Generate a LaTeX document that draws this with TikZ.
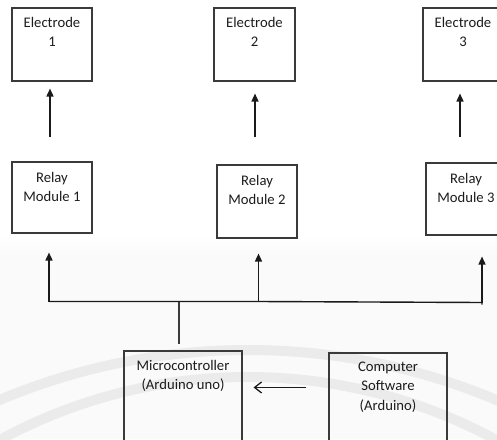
\documentclass[tikz,border=0pt]{standalone}
\usepackage{fontspec}
\setmainfont{Carlito}
\usetikzlibrary{arrows.meta}

\definecolor{boxline}{HTML}{3A3A3A}
\definecolor{inkline}{HTML}{1A1A1A}
\definecolor{txt}{HTML}{1C1C1C}
\definecolor{wmark}{HTML}{EBEBEB}
\definecolor{wbg}{HTML}{FAFAFA}

\tikzset{
  block/.style={draw=boxline, line width=1.1pt, minimum width=80pt, inner sep=0pt},
  lbl/.style={anchor=north, align=center, inner sep=0pt, text=txt,
              font=\fontsize{14.67}{19.5}\selectfont},
  uparrow/.style={draw=inkline, line width=1.5pt,
                  -{Triangle[length=8pt,width=7pt]}},
  busline/.style={draw=inkline, line width=1.4pt},
  feed/.style={draw=inkline, line width=1.3pt,
               -{Straight Barb[length=7pt,width=11pt]}}
}

\begin{document}
\begin{tikzpicture}[x=1pt, y=-1pt]
\useasboundingbox (0,0) rectangle (497,439);

% faint background seal
\begin{scope}
  \clip (0,0) rectangle (497,439);
  \shade[top color=white, bottom color=wbg] (0,236) rectangle (497,256);
  \fill[wbg] (0,256) rectangle (497,439);
  \draw[wmark, line width=10pt] (248,990) circle[radius=640];
  \draw[wmark, line width=10pt] (248,897) circle[radius=520];
\end{scope}

% electrodes
\node[block, minimum width=80pt, minimum height=73pt] (e1) at (52,44.5) {};
\node[block, minimum width=81pt, minimum height=73pt] (e2) at (254.5,44.5) {};
\node[block, minimum width=80pt, minimum height=73pt] (e3) at (463,44.5) {};
\node[lbl] (e1t) at ([yshift=-9.6pt]e1.north) {Electrode\\1};
\node[lbl] (e2t) at ([yshift=-9.6pt]e2.north) {Electrode\\2};
\node[lbl] (e3t) at ([yshift=-9.6pt]e3.north) {Electrode\\3};

% relay modules
\node[block, minimum height=71pt] (r1) at (52,197.5) {};
\node[block, minimum height=73pt] (r2) at (257,201.5) {};
\node[block, minimum height=72pt] (r3) at (466,199) {};
\node[lbl] (r1t) at ([yshift=-10.6pt]r1.north) {Relay\\Module 1};
\node[lbl] (r2t) at ([yshift=-10.6pt]r2.north) {Relay\\Module 2};
\node[lbl] (r3t) at ([yshift=-10.2pt]r3.north) {Relay\\Module 3};

% controller and PC
\node[block, minimum width=118pt, minimum height=100pt] (mc) at (183,401) {};
\node[block, minimum width=118pt, minimum height=100pt] (pc) at (388,403) {};
\node[lbl] (mct) at ([yshift=-9.2pt]mc.north) {Microcontroller\\(Arduino uno)};
\node[lbl] (pct) at ([yshift=-9.2pt]pc.north) {Computer\\Software\\(Arduino)};

% relay -> electrode
\draw[uparrow, shorten <=24pt, shorten >=7pt] ([xshift=-2pt]e1.south |- r1.north) -- ([xshift=-2pt]e1.south);
\draw[uparrow, shorten <=27pt, shorten >=12pt] ([xshift=0.5pt]e2.south |- r2.north) -- ([xshift=0.5pt]e2.south);
\draw[uparrow, shorten <=25pt, shorten >=12pt] ([xshift=-3pt]e3.south |- r3.north) -- ([xshift=-3pt]e3.south);

% distribution bus
\coordinate (b1) at (49,301.5);
\coordinate (b2) at (258.5,301.5);
\coordinate (b3) at (482,302.5);
\coordinate (bj) at (179,301.5);
\draw[busline] (b1) -- (b2) -- (b3) -- ++(0,2);
\draw[uparrow, shorten >=19pt] (b1) -- (b1 |- r1.south);
\draw[uparrow, shorten >=15pt] (b2) -- (b2 |- r2.south);
\draw[uparrow, shorten >=21pt] (b3) -- (b3 |- r3.south);
\draw[draw=boxline, line width=1.9pt, shorten >=6pt] (bj) -- (bj |- mc.north);

% PC -> controller
\draw[feed, shorten <=22pt, shorten >=11pt] ([yshift=-35pt]pc.north west) -- ([yshift=-37pt]mc.north east);
\end{tikzpicture}
\end{document}
